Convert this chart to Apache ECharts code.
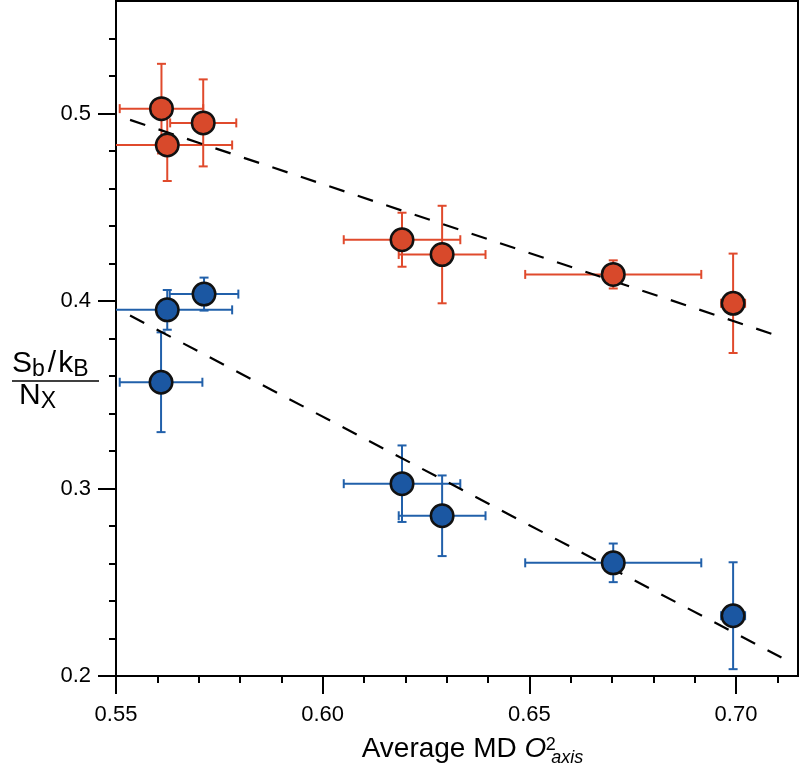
<!DOCTYPE html>
<html><head><meta charset="utf-8">
<script src="https://cdn.jsdelivr.net/npm/echarts@6/dist/echarts.min.js"></script>
<style>html,body{margin:0;padding:0;background:#fff}#c{width:800px;height:772px}</style>
</head><body><div id="c"></div>
<script>
// Red series (upper)
const redX    = [0.5610, 0.5711, 0.5624, 0.6192, 0.6289, 0.6703, 0.6993];
const redY    = [0.5026, 0.4950, 0.4832, 0.4327, 0.4248, 0.4142, 0.3988];
const redXErr = [0.0101, 0.0080, 0.0157, 0.0141, 0.0105, 0.0213, 0.0029];
const redYErr = [0.0239, 0.0232, 0.0192, 0.0144, 0.0260, 0.0075, 0.0265];
// Blue series (lower)
const blueX    = [0.5713, 0.5624, 0.5609, 0.6192, 0.6289, 0.6703, 0.6993];
const blueY    = [0.4037, 0.3953, 0.3567, 0.3026, 0.2855, 0.2604, 0.2322];
const blueXErr = [0.0083, 0.0157, 0.0100, 0.0141, 0.0105, 0.0213, 0.0029];
const blueYErr = [0.0088, 0.0106, 0.0266, 0.0204, 0.0215, 0.0103, 0.0285];
// Linear fits (dashed)
const redFitX  = [0.5534, 0.7110];
const redFitY  = [0.4966, 0.3808];
const blueFitX = [0.5534, 0.7110];
const blueFitY = [0.3923, 0.2099];
// Ticks
const xMajor = [0.55, 0.60, 0.65, 0.70];
const xMinor = [0.56, 0.57, 0.58, 0.59, 0.61, 0.62, 0.63, 0.64, 0.66, 0.67, 0.68, 0.69, 0.71];
const yMajor = [0.2, 0.3, 0.4, 0.5];
const yMinor = [0.22, 0.24, 0.26, 0.28, 0.32, 0.34, 0.36, 0.38, 0.42, 0.44, 0.46, 0.48, 0.52, 0.54];

const FONT = 'Liberation Sans, Arial, Helvetica, sans-serif';
const RED_FILL = '#D8492B', RED_BAR = '#E04A2C';
const BLUE_FILL = '#1B57A2', BLUE_BAR = '#2160AA';

function zip4(a, b, c, d) { return a.map((v, i) => [v, b[i], c[i], d[i]]); }
function zip2(a, b) { return a.map((v, i) => [v, b[i]]); }

function errRender(color) {
  return function (params, api) {
    const x = api.value(0), y = api.value(1), ex = api.value(2), ey = api.value(3);
    const c = api.coord([x, y]);
    const l = api.coord([x - ex, y]), r = api.coord([x + ex, y]);
    const t = api.coord([x, y + ey]), b = api.coord([x, y - ey]);
    const cap = 4.5;
    const style = { stroke: color, lineWidth: 2, fill: null };
    const ln = (x1, y1, x2, y2) => ({ type: 'line', shape: { x1, y1, x2, y2 }, style });
    return { type: 'group', children: [
      ln(l[0], c[1], r[0], c[1]),
      ln(l[0], c[1] - cap, l[0], c[1] + cap),
      ln(r[0], c[1] - cap, r[0], c[1] + cap),
      ln(c[0], t[1], c[0], b[1]),
      ln(c[0] - cap, t[1], c[0] + cap, t[1]),
      ln(c[0] - cap, b[1], c[0] + cap, b[1])
    ]};
  };
}

const richFrac = {
  n: { fontSize: 30, fontFamily: FONT, lineHeight: 34, fill: '#000', color: '#000' },
  sl: { fontSize: 30, fontFamily: FONT, lineHeight: 34, fill: '#000', color: '#000', padding: [0, 2, 0, 3] },
  s: { fontSize: 23, fontFamily: FONT, lineHeight: 20, verticalAlign: 'bottom', fill: '#000', color: '#000' }
};

const chart = echarts.init(document.getElementById('c'), null, { renderer: 'canvas' });
const baseAxis = { type: 'value', splitLine: { show: false } };
chart.setOption({
  animation: false,
  backgroundColor: '#fff',
  grid: { left: 116, right: 2, top: 1, bottom: 89, show: true, borderColor: '#000', borderWidth: 2, backgroundColor: 'transparent' },
  xAxis: [
    Object.assign({}, baseAxis, {
      min: 0.55, max: 0.715, position: 'bottom',
      axisLine: { show: true, lineStyle: { color: '#000', width: 2 } },
      axisTick: { show: true, inside: false, length: 18, customValues: xMajor, lineStyle: { color: '#000', width: 2 } },
      axisLabel: { show: true, customValues: xMajor, margin: 28, color: '#000', fontSize: 22, fontFamily: FONT, formatter: v => v.toFixed(2) },
      name: 'Average MD {it|O}{sup|2}{sub|axis}',
      nameLocation: 'middle', nameGap: 50,
      nameTextStyle: {
        color: '#000', fontSize: 28, fontFamily: FONT, lineHeight: 36, padding: [0, 0, 0, 31],
        rich: {
          it: { fontSize: 28, fontStyle: 'italic', fontFamily: FONT, color: '#000', lineHeight: 36 },
          sup: { fontSize: 18, fontFamily: FONT, color: '#000', verticalAlign: 'top', lineHeight: 18, width: 1, padding: [5, 0, 0, 4] },
          sub: { fontSize: 18, fontStyle: 'italic', fontFamily: FONT, color: '#000', verticalAlign: 'bottom', lineHeight: 14 }
        }
      }
    }),
    Object.assign({}, baseAxis, {
      min: 0.55, max: 0.715, position: 'bottom',
      axisLine: { show: false },
      axisTick: { show: true, inside: false, length: 7, customValues: xMinor, lineStyle: { color: '#000', width: 2 } },
      axisLabel: { show: false }
    })
  ],
  yAxis: [
    Object.assign({}, baseAxis, {
      min: 0.2, max: 0.56, position: 'left',
      axisLine: { show: true, lineStyle: { color: '#000', width: 2 } },
      axisTick: { show: true, inside: false, length: 18, customValues: yMajor, lineStyle: { color: '#000', width: 2 } },
      axisLabel: { show: true, customValues: yMajor, margin: 25, color: '#000', fontSize: 22, fontFamily: FONT, formatter: v => v.toFixed(1) }
    }),
    Object.assign({}, baseAxis, {
      min: 0.2, max: 0.56, position: 'left',
      axisLine: { show: false },
      axisTick: { show: true, inside: false, length: 7, customValues: yMinor, lineStyle: { color: '#000', width: 2 } },
      axisLabel: { show: false }
    })
  ],
  graphic: [
    { type: 'text', left: 12, top: 349, z: 100,
      style: { text: '{n|S}{s|b}{sl|/}{n|k}{s|B}', fill: '#000', rich: richFrac } },
    { type: 'line', z: 100, shape: { x1: 12, y1: 381, x2: 99, y2: 381 }, style: { stroke: '#000', lineWidth: 1.5 } },
    { type: 'text', left: 19, top: 381, z: 100,
      style: { text: '{n|N}{s|X}', fill: '#000', rich: richFrac } }
  ],
  series: [
    { type: 'custom', name: 'redErr', xAxisIndex: 0, yAxisIndex: 0, clip: true, z: 1,
      data: zip4(redX, redY, redXErr, redYErr), encode: { x: 0, y: 1 }, renderItem: errRender(RED_BAR) },
    { type: 'custom', name: 'blueErr', xAxisIndex: 0, yAxisIndex: 0, clip: true, z: 1,
      data: zip4(blueX, blueY, blueXErr, blueYErr), encode: { x: 0, y: 1 }, renderItem: errRender(BLUE_BAR) },
    { type: 'line', name: 'redFit', data: zip2(redFitX, redFitY), showSymbol: false, symbol: 'none', z: 2,
      lineStyle: { color: '#000', width: 2.2, type: [16, 14] } },
    { type: 'line', name: 'blueFit', data: zip2(blueFitX, blueFitY), showSymbol: false, symbol: 'none', z: 2,
      lineStyle: { color: '#000', width: 2.2, type: [16, 14] } },
    { type: 'scatter', name: 'red', data: zip2(redX, redY), symbol: 'circle', symbolSize: 22.5, z: 3,
      itemStyle: { color: RED_FILL, borderColor: '#111', borderWidth: 2.5, opacity: 1 } },
    { type: 'scatter', name: 'blue', data: zip2(blueX, blueY), symbol: 'circle', symbolSize: 22.5, z: 3,
      itemStyle: { color: BLUE_FILL, borderColor: '#111', borderWidth: 2.5, opacity: 1 } }
  ]
});
</script>
</body></html>
